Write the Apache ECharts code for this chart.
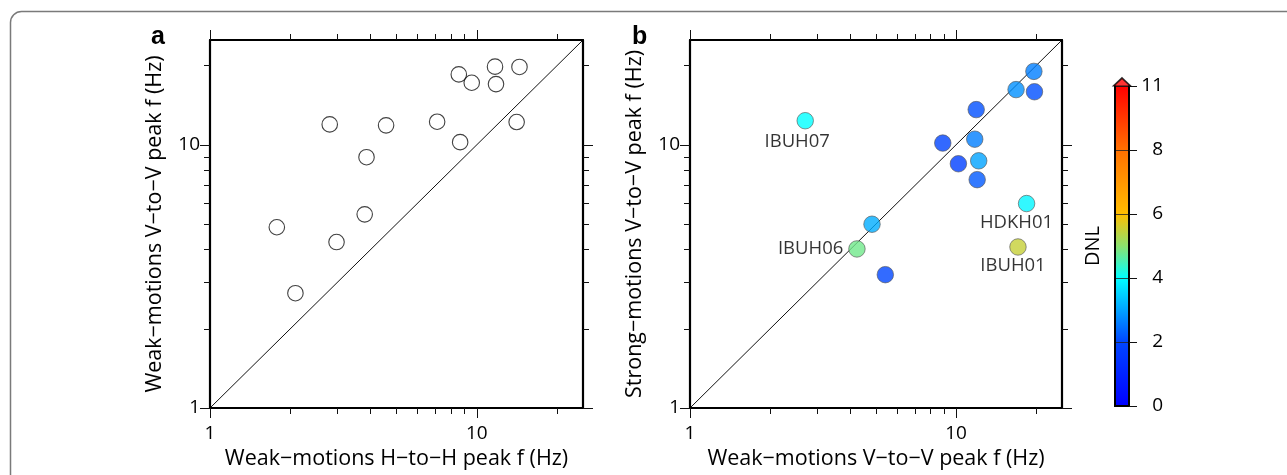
<!DOCTYPE html>
<html>
<head>
<meta charset="utf-8">
<script src="https://cdn.jsdelivr.net/npm/echarts@6/dist/echarts.min.js"></script>
<style>
html,body{margin:0;padding:0;background:#fff;}
#chart{width:1287px;height:475px;}
</style>
</head>
<body>
<div id="chart"></div>
<script>
// ---------- DATA ----------
// Panel a: weak-motion H-to-H peak f (x) vs weak-motion V-to-V peak f (y)
const aX = [1.78, 2.09, 2.98, 3.80, 3.86, 2.81, 4.57, 7.10, 8.66, 8.56, 9.57, 11.7, 11.8, 14.45, 14.1];
const aY = [4.86, 2.73, 4.27, 5.44, 8.97, 11.95, 11.85, 12.23, 10.23, 18.5, 17.2, 19.8, 17.0, 19.75, 12.2];
// Panel b: weak-motion V-to-V peak f (x) vs strong-motion V-to-V peak f (y), DNL colour
const bX = [2.71, 8.91, 10.2, 11.9, 11.75, 12.16, 12.0, 16.8, 19.6, 19.7, 18.4, 17.08, 4.83, 4.24, 5.42];
const bY = [12.34, 10.15, 8.47, 13.6, 10.5, 8.69, 7.37, 16.2, 19.0, 15.9, 5.98, 4.09, 4.99, 4.02, 3.21];
const bDNL = [4.0, 1.9, 1.8, 2.1, 2.6, 3.0, 2.2, 2.8, 2.6, 2.1, 3.9, 5.5, 3.1, 4.8, 2.0];
const bNames = ['IBUH07', '', '', '', '', '', '', '', '', '', 'HDKH01', 'IBUH01', '', 'IBUH06', ''];
// Axes
const axisMin = 1, axisMax = 25;
const majorTicks = [1, 10];
const minorTicks = [2, 3, 4, 5, 6, 7, 8, 9, 20];
const diagonal = [[1, 1], [25, 25]];
// Colour bar
const cbTicks = [0, 2, 4, 6, 8, 11];
const cbStops = [
  [0, [0, 0, 255]],
  [2, [0, 70, 255]],
  [4, [0, 255, 255]],
  [5, [140, 226, 110]],
  [6, [255, 190, 0]],
  [8, [255, 112, 0]],
  [11, [255, 0, 0]]
];
const panelLetters = ['a', 'b'];
const xNames = ['Weak\u2212motions H\u2212to\u2212H peak f (Hz)', 'Weak\u2212motions V\u2212to\u2212V peak f (Hz)'];
const yNames = ['Weak\u2212motions V\u2212to\u2212V peak f (Hz)', 'Strong\u2212motions V\u2212to\u2212V peak f (Hz)'];

// ---------- HELPERS ----------
const FONT = '"Open Sans", "Noto Sans", sans-serif';
const TXT = '#000';
function cmap(v) {
  if (v <= cbStops[0][0]) return cbStops[0][1];
  for (let i = 1; i < cbStops.length; i++) {
    if (v <= cbStops[i][0]) {
      const [v0, c0] = cbStops[i - 1], [v1, c1] = cbStops[i];
      const t = (v - v0) / (v1 - v0);
      return c0.map((c, k) => Math.round(c + (c1[k] - c) * t));
    }
  }
  return cbStops[cbStops.length - 1][1];
}
function rgb(c) { return 'rgb(' + c.join(',') + ')'; }

const grids = [
  { left: 210, top: 40, width: 373, height: 374 },
  { left: 690, top: 40, width: 372, height: 374 },
  { left: 1115, top: 86, width: 14, height: 320 }
];

const xAxes = [], yAxes = [];
function logAxis(dim, gi, position, major, withLabel, name) {
  const ax = {
    gridIndex: gi, type: 'log', logBase: 10, min: axisMin, max: axisMax,
    position: position, z: 5,
    axisLine: { show: major, onZero: false, lineStyle: { color: '#000', width: 2.2 } },
    axisTick: { show: true, inside: false, length: major ? 10 : 6,
      customValues: major ? majorTicks : minorTicks,
      lineStyle: { color: '#111', width: 1 } },
    axisLabel: { show: !!withLabel, customValues: majorTicks, color: TXT,
      fontFamily: FONT, fontSize: 19, margin: dim === 'x' ? 16 : 10,
      formatter: v => String(Math.round(v)) },
    splitLine: { show: false },
    minorTick: { show: false }
  };
  if (name) {
    ax.name = name; ax.nameLocation = 'middle';
    ax.nameTextStyle = { fontFamily: FONT, fontSize: 21.5, color: TXT };
    ax.nameGap = dim === 'x' ? 40 : 44;
  }
  return ax;
}
for (let p = 0; p < 2; p++) {
  xAxes.push(logAxis('x', p, 'bottom', true, true, xNames[p]));
  xAxes.push(logAxis('x', p, 'bottom', false));
  xAxes.push(logAxis('x', p, 'top', true));
  xAxes.push(logAxis('x', p, 'top', false));
  yAxes.push(logAxis('y', p, 'left', true, true, yNames[p]));
  yAxes.push(logAxis('y', p, 'left', false));
  yAxes.push(logAxis('y', p, 'right', true));
  yAxes.push(logAxis('y', p, 'right', false));
}
// colour bar axes
const cbX0 = xAxes.length, cbY0 = yAxes.length;
xAxes.push({ gridIndex: 2, type: 'category', data: ['c'], position: 'bottom', z: 5,
  axisLine: { show: true, lineStyle: { color: '#000', width: 2 } },
  axisTick: { show: false }, axisLabel: { show: false } });
xAxes.push({ gridIndex: 2, type: 'category', data: ['c'], position: 'top', z: 5,
  axisLine: { show: true, lineStyle: { color: '#000', width: 2 } },
  axisTick: { show: false }, axisLabel: { show: false } });
yAxes.push({ gridIndex: 2, type: 'value', min: 0, max: cbTicks.length - 1, interval: 1, position: 'right', z: 5,
  axisLine: { show: true, lineStyle: { color: '#000', width: 2 } },
  axisTick: { show: true, length: 8, lineStyle: { color: '#111', width: 1 } },
  axisLabel: { color: TXT, fontFamily: FONT, fontSize: 19, margin: 34, align: 'right',
    formatter: v => String(cbTicks[Math.round(v)]) },
  splitLine: { show: true, lineStyle: { color: '#222', width: 0.8 } } });
yAxes.push({ gridIndex: 2, type: 'value', min: 0, max: cbTicks.length - 1, position: 'left', z: 5,
  axisLine: { show: true, lineStyle: { color: '#000', width: 2 } },
  axisTick: { show: false }, axisLabel: { show: false }, splitLine: { show: false },
  name: 'DNL', nameLocation: 'middle', nameGap: 12,
  nameTextStyle: { fontFamily: FONT, fontSize: 20, color: TXT } });

// ---------- SERIES ----------
const series = [];
for (let p = 0; p < 2; p++) {
  series.push({ type: 'line', xAxisIndex: p * 4, yAxisIndex: p * 4, data: diagonal,
    symbol: 'none', silent: true, z: 1, lineStyle: { color: '#111', width: 1 } });
}
series.push({ type: 'scatter', xAxisIndex: 0, yAxisIndex: 0,
  data: aX.map((x, i) => [x, aY[i]]), symbol: 'circle', symbolSize: 15.5,
  itemStyle: { color: 'rgba(255,255,255,0)', borderColor: '#111', borderWidth: 1.1 } });

const labelCfg = {
  IBUH07: { position: 'bottom', offset: [-8, 0], distance: 3 },
  HDKH01: { position: 'bottom', offset: [-10, 0], distance: 1 },
  IBUH01: { position: 'bottom', offset: [-5, 0], distance: 1 },
  IBUH06: { position: 'left', offset: [0, 0], distance: 5 }
};
series.push({ type: 'scatter', xAxisIndex: 4, yAxisIndex: 4,
  data: bX.map((x, i) => {
    const item = { value: [bX[i], bY[i], bDNL[i]], name: bNames[i],
      itemStyle: { color: rgb(cmap(bDNL[i])) } };
    if (bNames[i]) {
      item.label = Object.assign({ show: true, formatter: '{b}', color: TXT,
        fontFamily: FONT, fontSize: 18.5 }, labelCfg[bNames[i]]);
    }
    return item;
  }),
  symbol: 'circle', symbolSize: 16.5,
  itemStyle: { borderColor: '#555', borderWidth: 0.8 } });

// colour bar segments
for (let s = 0; s < cbTicks.length - 1; s++) {
  const v0 = cbTicks[s], v1 = cbTicks[s + 1];
  const stops = [];
  const n = 8;
  for (let k = 0; k <= n; k++) {
    stops.push({ offset: k / n, color: rgb(cmap(v1 - (v1 - v0) * k / n)) });
  }
  series.push({ type: 'bar', xAxisIndex: cbX0, yAxisIndex: cbY0, stack: 'cb',
    barWidth: '100%', silent: true, data: [1],
    itemStyle: { color: new echarts.graphic.LinearGradient(0, 0, 0, 1, stops) } });
}
series.push({ type: 'scatter', xAxisIndex: cbX0, yAxisIndex: cbY0, clip: false, silent: true,
  data: [['c', cbTicks.length - 1]], symbol: 'triangle', symbolSize: [17, 8], symbolOffset: [0, -4],
  itemStyle: { color: '#ff0000', borderColor: '#000', borderWidth: 1.5 }, z: 6 });

// ---------- CHART ----------
const chart = echarts.init(document.getElementById('chart'), null, { renderer: 'canvas' });
chart.setOption({
  animation: false,
  backgroundColor: '#fff',
  title: [
    { text: panelLetters[0], left: 146, top: 20, textStyle: { fontFamily: '"Liberation Sans", Arial, sans-serif', fontWeight: 'bold', fontSize: 25, color: '#000' } },
    { text: panelLetters[1], left: 627, top: 20, textStyle: { fontFamily: '"Liberation Sans", Arial, sans-serif', fontWeight: 'bold', fontSize: 25, color: '#000' } }
  ],
  graphic: [{ type: 'rect', shape: { x: 10.5, y: 11.5, width: 1320, height: 520, r: 11 },
    style: { fill: 'none', stroke: '#7a7a7a', lineWidth: 1.5 }, silent: true, z: -1 }],
  grid: grids,
  xAxis: xAxes,
  yAxis: yAxes,
  series: series
});
</script>
</body>
</html>
